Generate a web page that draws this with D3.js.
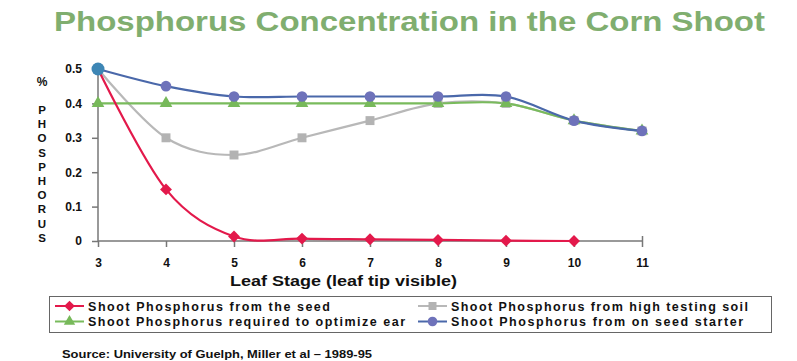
<!DOCTYPE html>
<html>
<head>
<meta charset="utf-8">
<script src="https://cdn.jsdelivr.net/npm/d3@7"></script>
<style>
  body { margin: 0; background: #fff; }
  text { font-family: "Liberation Sans", Arial, sans-serif; }
</style>
</head>
<body>
<svg id="chart" width="797" height="361"></svg>
<script>
// leaf stages
var stages = [3, 4, 5, 6, 7, 8, 9, 10, 11];
var yTicks = [0, 0.1, 0.2, 0.3, 0.4, 0.5];

// series values (% phosphorus)
var fromSeed     = [0.5, 0.15, 0.013, 0.007, 0.005, 0.003, 0.001, 0.0];
var highSoil     = [0.5, 0.30, 0.25, 0.30, 0.35, 0.40, 0.40, 0.35, 0.32];
var required     = [0.4, 0.40, 0.40, 0.40, 0.40, 0.40, 0.40, 0.35, 0.32];
var seedStarter  = [0.5, 0.45, 0.42, 0.42, 0.42, 0.42, 0.42, 0.35, 0.32];

var seriesNames = [
  "Shoot Phosphorus from the seed",
  "Shoot Phosphorus from high testing soil",
  "Shoot Phosphorus required to optimize ear",
  "Shoot Phosphorus from on seed starter"
];

var svg = d3.select("#chart");

var x = d3.scaleLinear().domain([3, 11]).range([98, 642]);
var y = d3.scaleLinear().domain([0, 0.5]).range([241, 69]);

// title
svg.append("text")
  .attr("x", 54).attr("y", 31)
  .attr("textLength", 711).attr("lengthAdjust", "spacingAndGlyphs")
  .attr("font-size", 27).attr("font-weight", "bold")
  .attr("fill", "#80ae6f")
  .text("Phosphorus Concentration in the Corn Shoot");

// axes
var yAxis = d3.axisLeft(y).tickValues(yTicks).tickSize(6).tickFormat(function (d) { return d === 0 ? "0" : d3.format(".1f")(d); });
var xAxis = d3.axisBottom(x).tickValues(stages).tickSize(6);

var gy = svg.append("g").attr("transform", "translate(98,0)").call(yAxis);
gy.select(".domain").attr("d", "M0," + y(0) + "V" + y(0.5)).attr("stroke", "#777").attr("stroke-width", 1.5);
gy.selectAll(".tick line").attr("stroke", "#777").attr("stroke-width", 1.5);
gy.selectAll(".tick text").attr("x", -16).attr("font-size", 12).attr("font-weight", "bold")
  .attr("font-family", "'Liberation Sans', Arial, sans-serif").attr("fill", "#111");

var gx = svg.append("g").attr("transform", "translate(0,241)").call(xAxis);
gx.select(".domain").attr("d", "M" + x(3) + ",0H" + x(11)).attr("stroke", "#777").attr("stroke-width", 1.5);
gx.selectAll(".tick line").attr("stroke", "#777").attr("stroke-width", 1.5)
  .attr("y1", function (d) { return d === 11 ? -5 : 0; });
gx.selectAll(".tick text").attr("y", 17).attr("font-size", 12).attr("font-weight", "bold")
  .attr("font-family", "'Liberation Sans', Arial, sans-serif").attr("fill", "#111");

svg.append("text")
  .attr("x", 230).attr("y", 286)
  .attr("textLength", 227).attr("lengthAdjust", "spacingAndGlyphs")
  .attr("font-size", 14.5).attr("font-weight", "bold").attr("fill", "#111")
  .text("Leaf Stage (leaf tip visible)");

// y label: % and vertical letters
svg.append("text").attr("x", 42).attr("y", 86).attr("text-anchor", "middle")
  .attr("font-size", 12).attr("font-weight", "bold").attr("fill", "#111").text("%");
"PHOSPHORUS".split("").forEach(function (ch, i) {
  svg.append("text").attr("x", 42).attr("y", 114 + i * 14.2).attr("text-anchor", "middle")
    .attr("font-size", 11.5).attr("font-weight", "bold").attr("fill", "#111").text(ch);
});

// series
var series = [
  { name: seriesNames[1], values: highSoil, line: "#b8b8b8", fill: "#b3b3b3", shape: d3.symbolSquare, size: 80 },
  { name: seriesNames[2], values: required, line: "#79bb5c", fill: "#77b95a", shape: d3.symbolTriangle, size: 70 },
  { name: seriesNames[3], values: seedStarter, line: "#4a68aa", fill: "#6e72ba", shape: d3.symbolCircle, size: 90 },
  { name: seriesNames[0], values: fromSeed, line: "#e3194b", fill: "#e3194b", shape: d3.symbolDiamond2, size: 90 }
];

var line = d3.line()
  .x(function (d, i) { return x(stages[i]); })
  .y(function (d) { return y(d); })
  .curve(d3.curveCatmullRom.alpha(0));

series.forEach(function (s) {
  svg.append("path")
    .datum(s.values)
    .attr("d", line)
    .attr("fill", "none")
    .attr("stroke", s.line)
    .attr("stroke-width", 2.2);
});

series.forEach(function (s) {
  svg.selectAll(null)
    .data(s.values)
    .enter()
    .append("path")
    .attr("transform", function (d, i) { return "translate(" + x(stages[i]) + "," + y(d) + ")"; })
    .attr("d", d3.symbol().type(s.shape).size(s.size))
    .attr("fill", s.fill);
});

// larger first point on the starter series
svg.append("circle")
  .attr("cx", x(stages[0])).attr("cy", y(seedStarter[0])).attr("r", 6.5)
  .attr("fill", "#3d86b5");

// legend
svg.append("rect")
  .attr("x", 49.5).attr("y", 296.5).attr("width", 722).attr("height", 36)
  .attr("fill", "#fff").attr("stroke", "#666").attr("stroke-width", 1);

var legendOrder = [
  { s: series[3], col: 0, row: 0, w: 242 },
  { s: series[0], col: 1, row: 0, w: 297 },
  { s: series[1], col: 0, row: 1, w: 317 },
  { s: series[2], col: 1, row: 1, w: 292 }
];
legendOrder.forEach(function (l) {
  var lx = l.col === 0 ? 55 : 418;
  var ly = 306 + l.row * 15.5;
  svg.append("line").attr("x1", lx).attr("x2", lx + 29).attr("y1", ly).attr("y2", ly)
    .attr("stroke", l.s.line).attr("stroke-width", 2);
  svg.append("path").attr("transform", "translate(" + (lx + 14.5) + "," + ly + ")")
    .attr("d", d3.symbol().type(l.s.shape).size(l.s.size * 0.8)).attr("fill", l.s.fill);
  svg.append("text").attr("x", lx + 33).attr("y", ly + 4.5)
    .attr("textLength", l.w).attr("lengthAdjust", "spacing")
    .attr("font-size", 12.5).attr("font-weight", "bold").attr("fill", "#111")
    .text(l.s.name);
});

// source
svg.append("text").attr("x", 62).attr("y", 358)
  .attr("textLength", 310).attr("lengthAdjust", "spacingAndGlyphs")
  .attr("font-size", 11).attr("font-weight", "bold").attr("fill", "#111")
  .text("Source:  University of Guelph, Miller et al \u2013 1989-95");
</script>
</body>
</html>
